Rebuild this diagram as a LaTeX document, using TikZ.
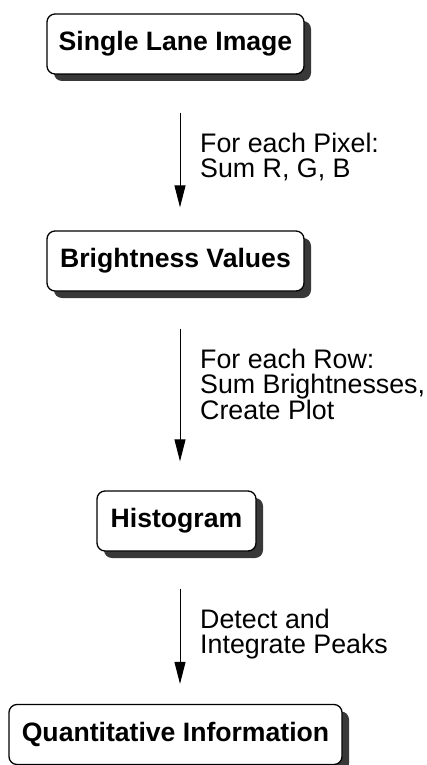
\documentclass[tikz,border=0pt]{standalone}
\usepackage{fontspec}
\setmainfont{Liberation Sans}
\usetikzlibrary{arrows.meta,shadows,calc}
\begin{document}
\begin{tikzpicture}[x=1pt,y=-1pt,
  box/.style={draw=black, line width=1.3pt, rounded corners=8pt, fill=white,
    minimum height=60pt, inner sep=0pt,
    font=\fontsize{26.6}{30}\selectfont\bfseries,
    drop shadow={shadow xshift=7pt, shadow yshift=-7pt, fill=black!78, opacity=1}},
  arr/.style={line width=1pt, -{Triangle[length=22pt,width=11pt]}},
  lbl/.style={anchor=north west, inner sep=0pt, align=left,
    font=\fontsize{26.8}{25.3}\selectfont}]
\useasboundingbox (0,0) rectangle (426,765);
\node[box, minimum width=257pt] (b1) at (175.5,44) {Single Lane Image};
\node[box, minimum width=257pt] (b2) at (175.5,261) {Brightness Values};
\node[box, minimum width=159pt] (b3) at (176.5,521) {Histogram};
\node[box, minimum width=333pt] (b4) at (175.5,734.5) {Quantitative Information};
\draw[arr] ($(b1.south)+(4.5,38)$) -- ($(b2.north)+(4.5,-23)$);
\draw[arr] ($(b2.south)+(4.5,37)$) -- ($(b3.north)+(3.5,-29)$);
\draw[arr] ($(b3.south)+(3.5,37)$) -- ($(b4.north)+(4.5,-20)$);
\node[lbl] (l1) at (200,133) {For each Pixel:\\Sum R, G, B};
\node[lbl] (l2) at (200,349) {For each Row:\\Sum Brightnesses,\\Create Plot};
\node[lbl] (l3) at (200,609) {Detect and\\Integrate Peaks};
\end{tikzpicture}
\end{document}
